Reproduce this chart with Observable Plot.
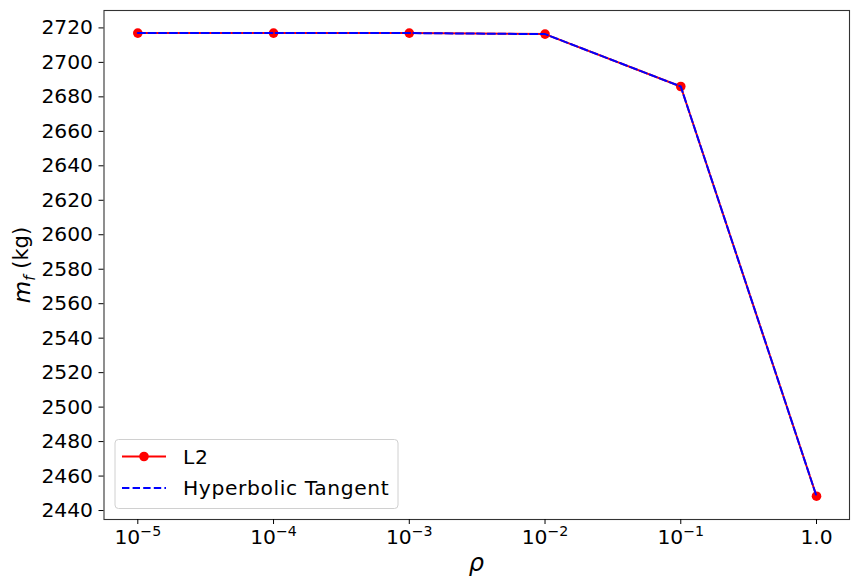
<!DOCTYPE html>
<html>
<head>
<meta charset="utf-8">
<script src="https://cdn.jsdelivr.net/npm/d3@7"></script>
<script src="https://cdn.jsdelivr.net/npm/@observablehq/plot@0.6"></script>
<style>
  html, body { margin: 0; padding: 0; background: #fff; }
  svg { font-family: "DejaVu Sans", sans-serif; }
</style>
</head>
<body>
<div id="chart"></div>
<script>
const rho = [1e-5, 1e-4, 1e-3, 1e-2, 1e-1, 1.0];
const l2Values = [2717.0, 2717.0, 2717.0, 2716.4, 2686.0, 2448.3];
const tanhValues = [2717.0, 2717.0, 2717.0, 2716.4, 2686.0, 2448.3];
const xTicks = [1e-5, 1e-4, 1e-3, 1e-2, 1e-1, 1.0];
const xTickBase = ["10", "10", "10", "10", "10", "1.0"];
const xTickExp = ["\u22125", "\u22124", "\u22123", "\u22122", "\u22121", ""];
const yTicks = [2440, 2460, 2480, 2500, 2520, 2540, 2560, 2580, 2600, 2620, 2640, 2660, 2680, 2700, 2720];
const seriesNames = ["L2", "Hyperbolic Tangent"];

const l2 = rho.map((r, i) => ({rho: r, m: l2Values[i]}));
const tanh = rho.map((r, i) => ({rho: r, m: tanhValues[i]}));

const W = 855, H = 582;
const mL = 103.5, mR = 6, mT = 10, mB = 63;
const FS = 20.3;

const plot = Plot.plot({
  width: W, height: H,
  marginLeft: mL, marginRight: mR, marginTop: mT, marginBottom: mB,
  style: {fontFamily: "DejaVu Sans, sans-serif", fontSize: FS + "px", color: "#000", background: "#fff"},
  x: {type: "log", domain: [Math.pow(10, -5.249), Math.pow(10, 0.243)]},
  y: {domain: [2434.8, 2730.1]},
  marks: [
    Plot.frame({stroke: "#333", strokeWidth: 1.1}),
    Plot.axisX({ticks: xTicks, tickSize: 5, tickPadding: 5, fontSize: FS,
      tickFormat: d => xTickBase[xTicks.indexOf(d)] + "|" + xTickExp[xTicks.indexOf(d)], label: null}),
    Plot.axisY({ticks: yTicks, tickSize: 5, tickPadding: 6, fontSize: FS,
      tickFormat: d => String(d), label: null}),
    Plot.line(l2, {x: "rho", y: "m", stroke: "#ff0000", strokeWidth: 2}),
    Plot.dot(l2, {x: "rho", y: "m", r: 4.8, fill: "#ff0000", stroke: "none"}),
    Plot.line(tanh, {x: "rho", y: "m", stroke: "#0000ff", strokeWidth: 2, strokeDasharray: "7.4,3.2"})
  ]
});

document.getElementById("chart").appendChild(plot);
const svg = d3.select(plot);

// superscript exponents on x tick labels
svg.selectAll('g[aria-label="x-axis tick label"] text').each(function() {
  const t = d3.select(this);
  const parts = t.text().split("|");
  t.text(null);
  t.append("tspan").text(parts[0]);
  if (parts[1]) {
    t.append("tspan").attr("font-size", "0.7em").attr("dy", "-0.55em").text(parts[1]);
  }
});

// axis labels
const cx = mL + (W - mL - mR) / 2;
svg.append("text")
  .attr("x", cx).attr("y", 571)
  .attr("text-anchor", "middle")
  .attr("font-size", "24px").attr("font-style", "italic").attr("fill", "#000")
  .text("\u03c1");

const yl = svg.append("text")
  .attr("transform", `translate(30,265) rotate(-90)`)
  .attr("text-anchor", "middle")
  .attr("font-size", "21px").attr("fill", "#000");
yl.append("tspan").attr("font-style", "italic").attr("font-size", "23px").text("m");
yl.append("tspan").attr("font-style", "italic").attr("font-size", "15px").attr("dy", "0.3em").text("f");
yl.append("tspan").attr("dy", "-0.3em").text(" (kg)");

// legend
const lg = svg.append("g").attr("text-anchor", "start");
lg.append("rect").attr("x", 115).attr("y", 439.5).attr("width", 283).attr("height", 69)
  .attr("rx", 3.5).attr("fill", "#fff").attr("fill-opacity", 0.8).attr("stroke", "#d0d0d0").attr("stroke-width", 1);
lg.append("line").attr("x1", 122).attr("x2", 166).attr("y1", 456.5).attr("y2", 456.5)
  .attr("stroke", "#ff0000").attr("stroke-width", 2);
lg.append("circle").attr("cx", 144).attr("cy", 456.5).attr("r", 4.8).attr("fill", "#ff0000");
lg.append("line").attr("x1", 122).attr("x2", 166).attr("y1", 488).attr("y2", 488)
  .attr("stroke", "#0000ff").attr("stroke-width", 2).attr("stroke-dasharray", "7.4,3.2");
lg.append("text").attr("x", 183).attr("y", 456.5).attr("dominant-baseline", "central")
  .attr("text-anchor", "start").attr("font-size", FS + "px").attr("letter-spacing", "0.6px").attr("fill", "#000").text(seriesNames[0]);
lg.append("text").attr("x", 183).attr("y", 488).attr("dominant-baseline", "central")
  .attr("text-anchor", "start").attr("font-size", FS + "px").attr("letter-spacing", "0.6px").attr("fill", "#000").text(seriesNames[1]);
</script>
</body>
</html>
